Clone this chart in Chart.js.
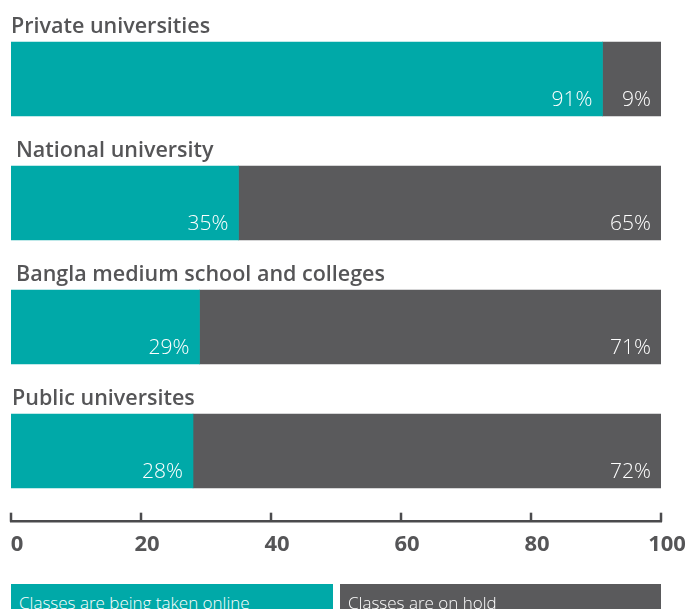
<!DOCTYPE html>
<html>
<head>
<meta charset="utf-8">
<script src="https://cdn.jsdelivr.net/npm/chart.js@4/dist/chart.umd.min.js"></script>
<style>
    html, body { margin: 0; padding: 0; background: #ffffff; overflow: hidden; }
    #wrap { position: relative; width: 690px; height: 609px; }
    #chart { position: absolute; left: 0; top: 0; }
    .key {
        position: absolute; top: 584px; height: 40px;
        color: #ffffff; font-family: "Open Sans", sans-serif; font-weight: 300;
        font-size: 17px; line-height: 20px; padding: 9px 0 0 8px; box-sizing: border-box;
        white-space: nowrap; overflow: hidden;
    }
</style>
</head>
<body>
<div id="wrap">
    <canvas id="chart" width="690" height="609"></canvas>
    <div class="key" id="key-online" style="left:11px; width:322px;"></div>
    <div class="key" id="key-hold" style="left:340px; width:321px;"></div>
</div>
<script>
// 数据
const groups = ['Private universities', 'National university', 'Bangla medium school and colleges', 'Public universites'];
const onlineShare = [91, 35, 29, 28];
const holdShare = [9, 65, 71, 72];
const seriesNames = ['Classes are being taken online', 'Classes are on hold'];
const xTicks = [0, 20, 40, 60, 80, 100];

// 颜色
const TEAL = '#00a9a8';
const GREY = '#5a5a5c';
const TEXT = '#555557';
const AXIS_AT = 3.57;          // x轴所在的y刻度位置
const titleIndent = [0, 5, 5, 1];

document.getElementById('key-online').style.background = TEAL;
document.getElementById('key-online').textContent = seriesNames[0];
document.getElementById('key-hold').style.background = GREY;
document.getElementById('key-hold').textContent = seriesNames[1];

// 每个条形上方的标题
const groupTitles = {
    id: 'groupTitles',
    afterDatasetsDraw(chart) {
        const ctx = chart.ctx;
        const bars = chart.getDatasetMeta(0).data;
        ctx.save();
        ctx.font = '600 21.5px "Open Sans"';
        ctx.fillStyle = TEXT;
        ctx.textAlign = 'left';
        ctx.textBaseline = 'alphabetic';
        bars.forEach((bar, i) => {
            const top = bar.y - bar.height / 2;
            ctx.fillText(groups[i], chart.chartArea.left + titleIndent[i], top - 9);
        });
        ctx.restore();
    }
};

// 条形内的百分比
const valueLabels = {
    id: 'valueLabels',
    afterDatasetsDraw(chart) {
        const ctx = chart.ctx;
        ctx.save();
        ctx.font = '300 21px "Open Sans"';
        ctx.fillStyle = '#ffffff';
        ctx.textAlign = 'right';
        ctx.textBaseline = 'alphabetic';
        chart.data.datasets.forEach((ds, d) => {
            chart.getDatasetMeta(d).data.forEach((bar, i) => {
                const bottom = bar.y + bar.height / 2;
                ctx.fillText(ds.data[i] + '%', bar.x - 10, bottom - 10);
            });
        });
        ctx.restore();
    }
};

// x轴向上的刻度线
const upTicks = {
    id: 'upTicks',
    afterDraw(chart) {
        const ctx = chart.ctx;
        const xs = chart.scales.x;
        const y0 = chart.scales.y.getPixelForValue(AXIS_AT);
        ctx.save();
        ctx.strokeStyle = '#4b4b4d';
        ctx.lineWidth = 2.5;
        xs.ticks.forEach(t => {
            const px = xs.getPixelForValue(t.value);
            ctx.beginPath();
            ctx.moveTo(px, y0 - 9);
            ctx.lineTo(px, y0);
            ctx.stroke();
        });
        ctx.restore();
    }
};

const ctx = document.getElementById('chart').getContext('2d');
new Chart(ctx, {
    type: 'bar',
    data: {
        labels: groups,
        datasets: [
            { label: seriesNames[0], data: onlineShare, backgroundColor: TEAL, barThickness: 74 },
            { label: seriesNames[1], data: holdShare, backgroundColor: GREY, barThickness: 74 }
        ]
    },
    options: {
        indexAxis: 'y',
        responsive: false,
        animation: false,
        layout: { padding: { left: 11, right: 29, top: 17, bottom: 96 } },
        plugins: { legend: { display: false }, tooltip: { enabled: false } },
        scales: {
            y: { stacked: true, display: false },
            x: {
                stacked: true,
                min: 0,
                max: 100,
                position: { y: AXIS_AT },
                afterBuildTicks: scale => { scale.ticks = xTicks.map(v => ({ value: v })); },
                // 标签可超出绘图区，不挤压左右边距
                afterFit: scale => { scale.paddingLeft = 0; scale.paddingRight = 0; },
                grid: { display: false, drawTicks: false },
                border: { display: true, color: '#4b4b4d', width: 2.5 },
                ticks: {
                    color: TEXT,
                    padding: 10,
                    labelOffset: 6,
                    maxRotation: 0,
                    font: { family: '"Open Sans"', size: 22, weight: '700' }
                }
            }
        }
    },
    plugins: [groupTitles, valueLabels, upTicks]
});
</script>
</body>
</html>
